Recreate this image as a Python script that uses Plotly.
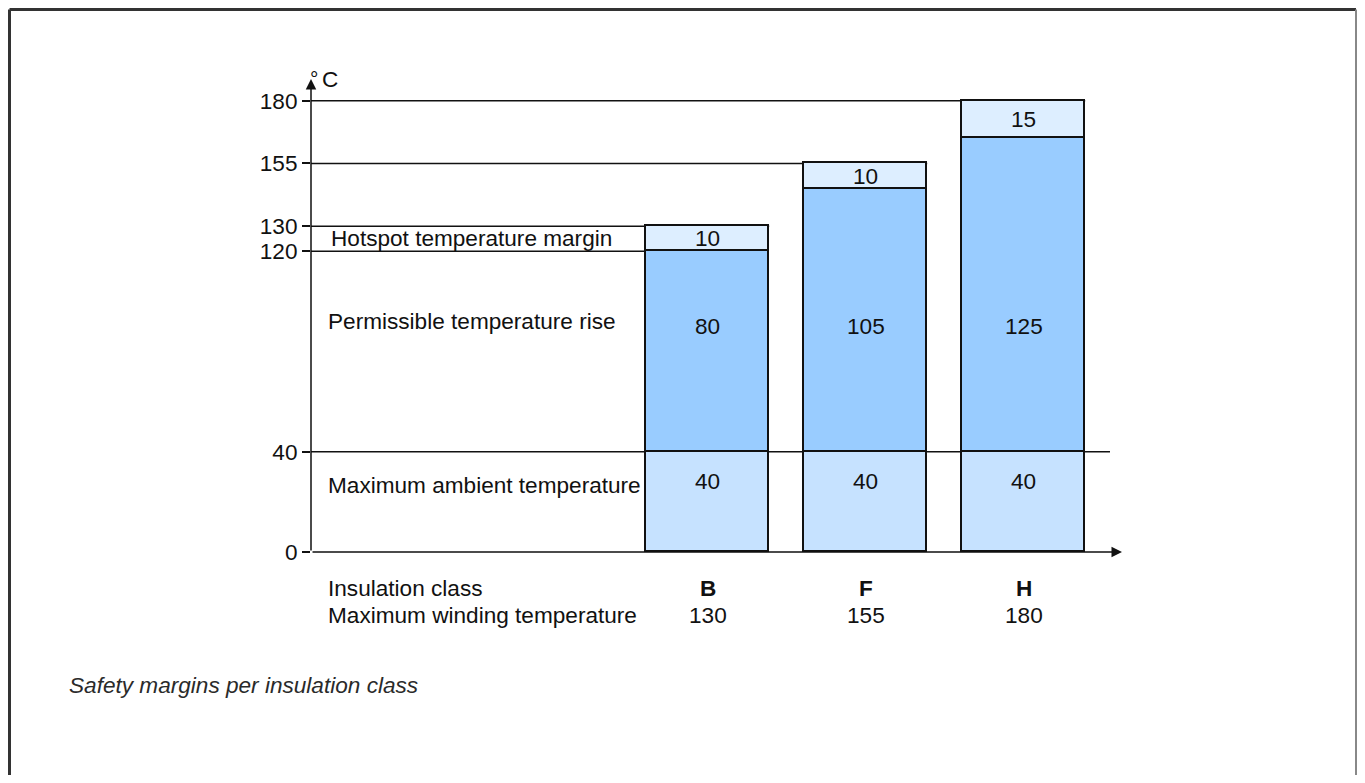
import plotly.graph_objects as go

# Données
classes = ['B', 'F', 'H']
max_winding = [130, 155, 180]
ambient = [40, 40, 40]
rise = [80, 105, 125]
margin = [10, 10, 15]
y_ticks = [0, 40, 120, 130, 155, 180]
row_labels = ['Hotspot temperature margin', 'Permissible temperature rise',
              'Maximum ambient temperature']

FONT = 'Liberation Sans, Arial, sans-serif'
FS = 22.6
BAR_W = 0.78
X0, X1 = -2.5095, 2.623
Y_TOP = 188.7
# la page ajoute une marge de 8 px autour de la figure
PAGE = 8

x = list(range(len(classes)))

fig = go.Figure()
fig.add_trace(go.Bar(x=x, y=ambient, width=BAR_W, marker_color='#C6E2FF',
                     marker_line=dict(color='#111', width=1.8)))
fig.add_trace(go.Bar(x=x, y=rise, width=BAR_W, marker_color='#99CCFF',
                     marker_line=dict(color='#111', width=1.8)))
fig.add_trace(go.Bar(x=x, y=margin, width=BAR_W, marker_color='#DDEEFF',
                     marker_line=dict(color='#111', width=1.8)))

line = dict(color='#111', width=1.5)
# lignes horizontales de référence
for i, top in enumerate(max_winding):
    fig.add_shape(type='line', x0=X0, x1=i + BAR_W / 2, y0=top, y1=top,
                  line=line, layer='below')
top_b = ambient[0] + rise[0]
fig.add_shape(type='line', x0=X0, x1=-BAR_W / 2, y0=top_b, y1=top_b,
              line=line, layer='below')
fig.add_shape(type='line', x0=X0, x1=2.547, y0=ambient[0], y1=ambient[0],
              line=line, layer='below')

# axes avec flèches
fig.add_annotation(x=X0, y=Y_TOP, ax=X0, ay=0, xref='x', yref='y',
                   axref='x', ayref='y', text='', showarrow=True,
                   arrowhead=2, arrowsize=1.4, arrowwidth=1.5, arrowcolor='#111')
fig.add_annotation(x=X1, y=0, ax=X0, ay=0, xref='x', yref='y',
                   axref='x', ayref='y', text='', showarrow=True,
                   arrowhead=2, arrowsize=1.4, arrowwidth=1.5, arrowcolor='#111')
fig.add_annotation(x=X0, y=Y_TOP, xref='x', yref='y', text='°',
                   showarrow=False, xanchor='left', yanchor='middle',
                   xshift=-3, yshift=1, font=dict(size=21, color='#111', family=FONT))
fig.add_annotation(x=X0, y=Y_TOP, xref='x', yref='y', text='C',
                   showarrow=False, xanchor='left', yanchor='middle',
                   xshift=9, yshift=0, font=dict(size=FS, color='#111', family=FONT))

txt = dict(size=FS, color='#111', family=FONT)

# valeurs dans les barres
for i in x:
    fig.add_annotation(x=i, y=ambient[i] + rise[i] + margin[i] / 2, text=str(margin[i]),
                       showarrow=False, font=txt)
    fig.add_annotation(x=i, y=90, text=str(rise[i]), showarrow=False, font=txt)
    fig.add_annotation(x=i, y=28.3, text=str(ambient[i]), showarrow=False, font=txt)
    fig.add_annotation(x=i, y=0, text='<b>' + classes[i] + '</b>', showarrow=False,
                       yshift=-36, font=txt)
    fig.add_annotation(x=i, y=0, text=str(max_winding[i]), showarrow=False,
                       yshift=-63, font=txt)

# libellés des lignes
for label, yy, dx in zip(row_labels, [125, 92, 26.7], [20, 17, 17]):
    fig.add_annotation(x=X0, y=yy, text=label, showarrow=False, xanchor='left',
                       xshift=dx - 2, font=txt)
fig.add_annotation(x=X0, y=0, text='Insulation class', showarrow=False,
                   xanchor='left', xshift=15, yshift=-36, font=txt)
fig.add_annotation(x=X0, y=0, text='Maximum winding temperature', showarrow=False,
                   xanchor='left', xshift=15, yshift=-63, font=txt)

# légende de la figure
fig.add_annotation(xref='paper', yref='paper', x=(67 - 311) / 811, y=-(685 - 552) / 473,
                   text='<i>Safety margins per insulation class</i>', showarrow=False,
                   xanchor='left', yanchor='middle',
                   font=dict(size=FS, color='#2a2a2a', family=FONT))

# cadre
fx0 = (PAGE + 1.5 - 311) / 811
fy0 = (552 - PAGE - 1.5) / 473
fx1 = (1356 - 311) / 811
fig.add_shape(type='line', xref='paper', yref='paper', x0=fx0, x1=fx0,
              y0=fy0, y1=-(800 - 552) / 473, line=dict(color='#333', width=3))
fig.add_shape(type='line', xref='paper', yref='paper', x0=fx0, x1=fx1,
              y0=fy0, y1=fy0, line=dict(color='#333', width=3))
fig.add_shape(type='line', xref='paper', yref='paper', x0=fx1, x1=fx1,
              y0=fy0, y1=-(800 - 552) / 473, line=dict(color='#888', width=2))

fig.update_layout(
    width=1365 - 2 * PAGE, height=783 - 2 * PAGE,
    margin=dict(l=311 - PAGE, r=235, t=79 - PAGE, b=223),
    barmode='stack', bargap=0,
    showlegend=False,
    plot_bgcolor='white', paper_bgcolor='white',
    font=dict(family=FONT, size=FS, color='#111'),
    xaxis=dict(range=[X0, X1], showgrid=False, zeroline=False, showticklabels=False,
               showline=False, fixedrange=True),
    yaxis=dict(range=[0, Y_TOP], showgrid=False, zeroline=False, showline=False,
               tickvals=y_ticks, ticks='outside', ticklen=8, tickwidth=1.5,
               tickcolor='#111', tickfont=dict(size=FS, color='#111', family=FONT),
               fixedrange=True),
)

fig.write_html("out.html")
